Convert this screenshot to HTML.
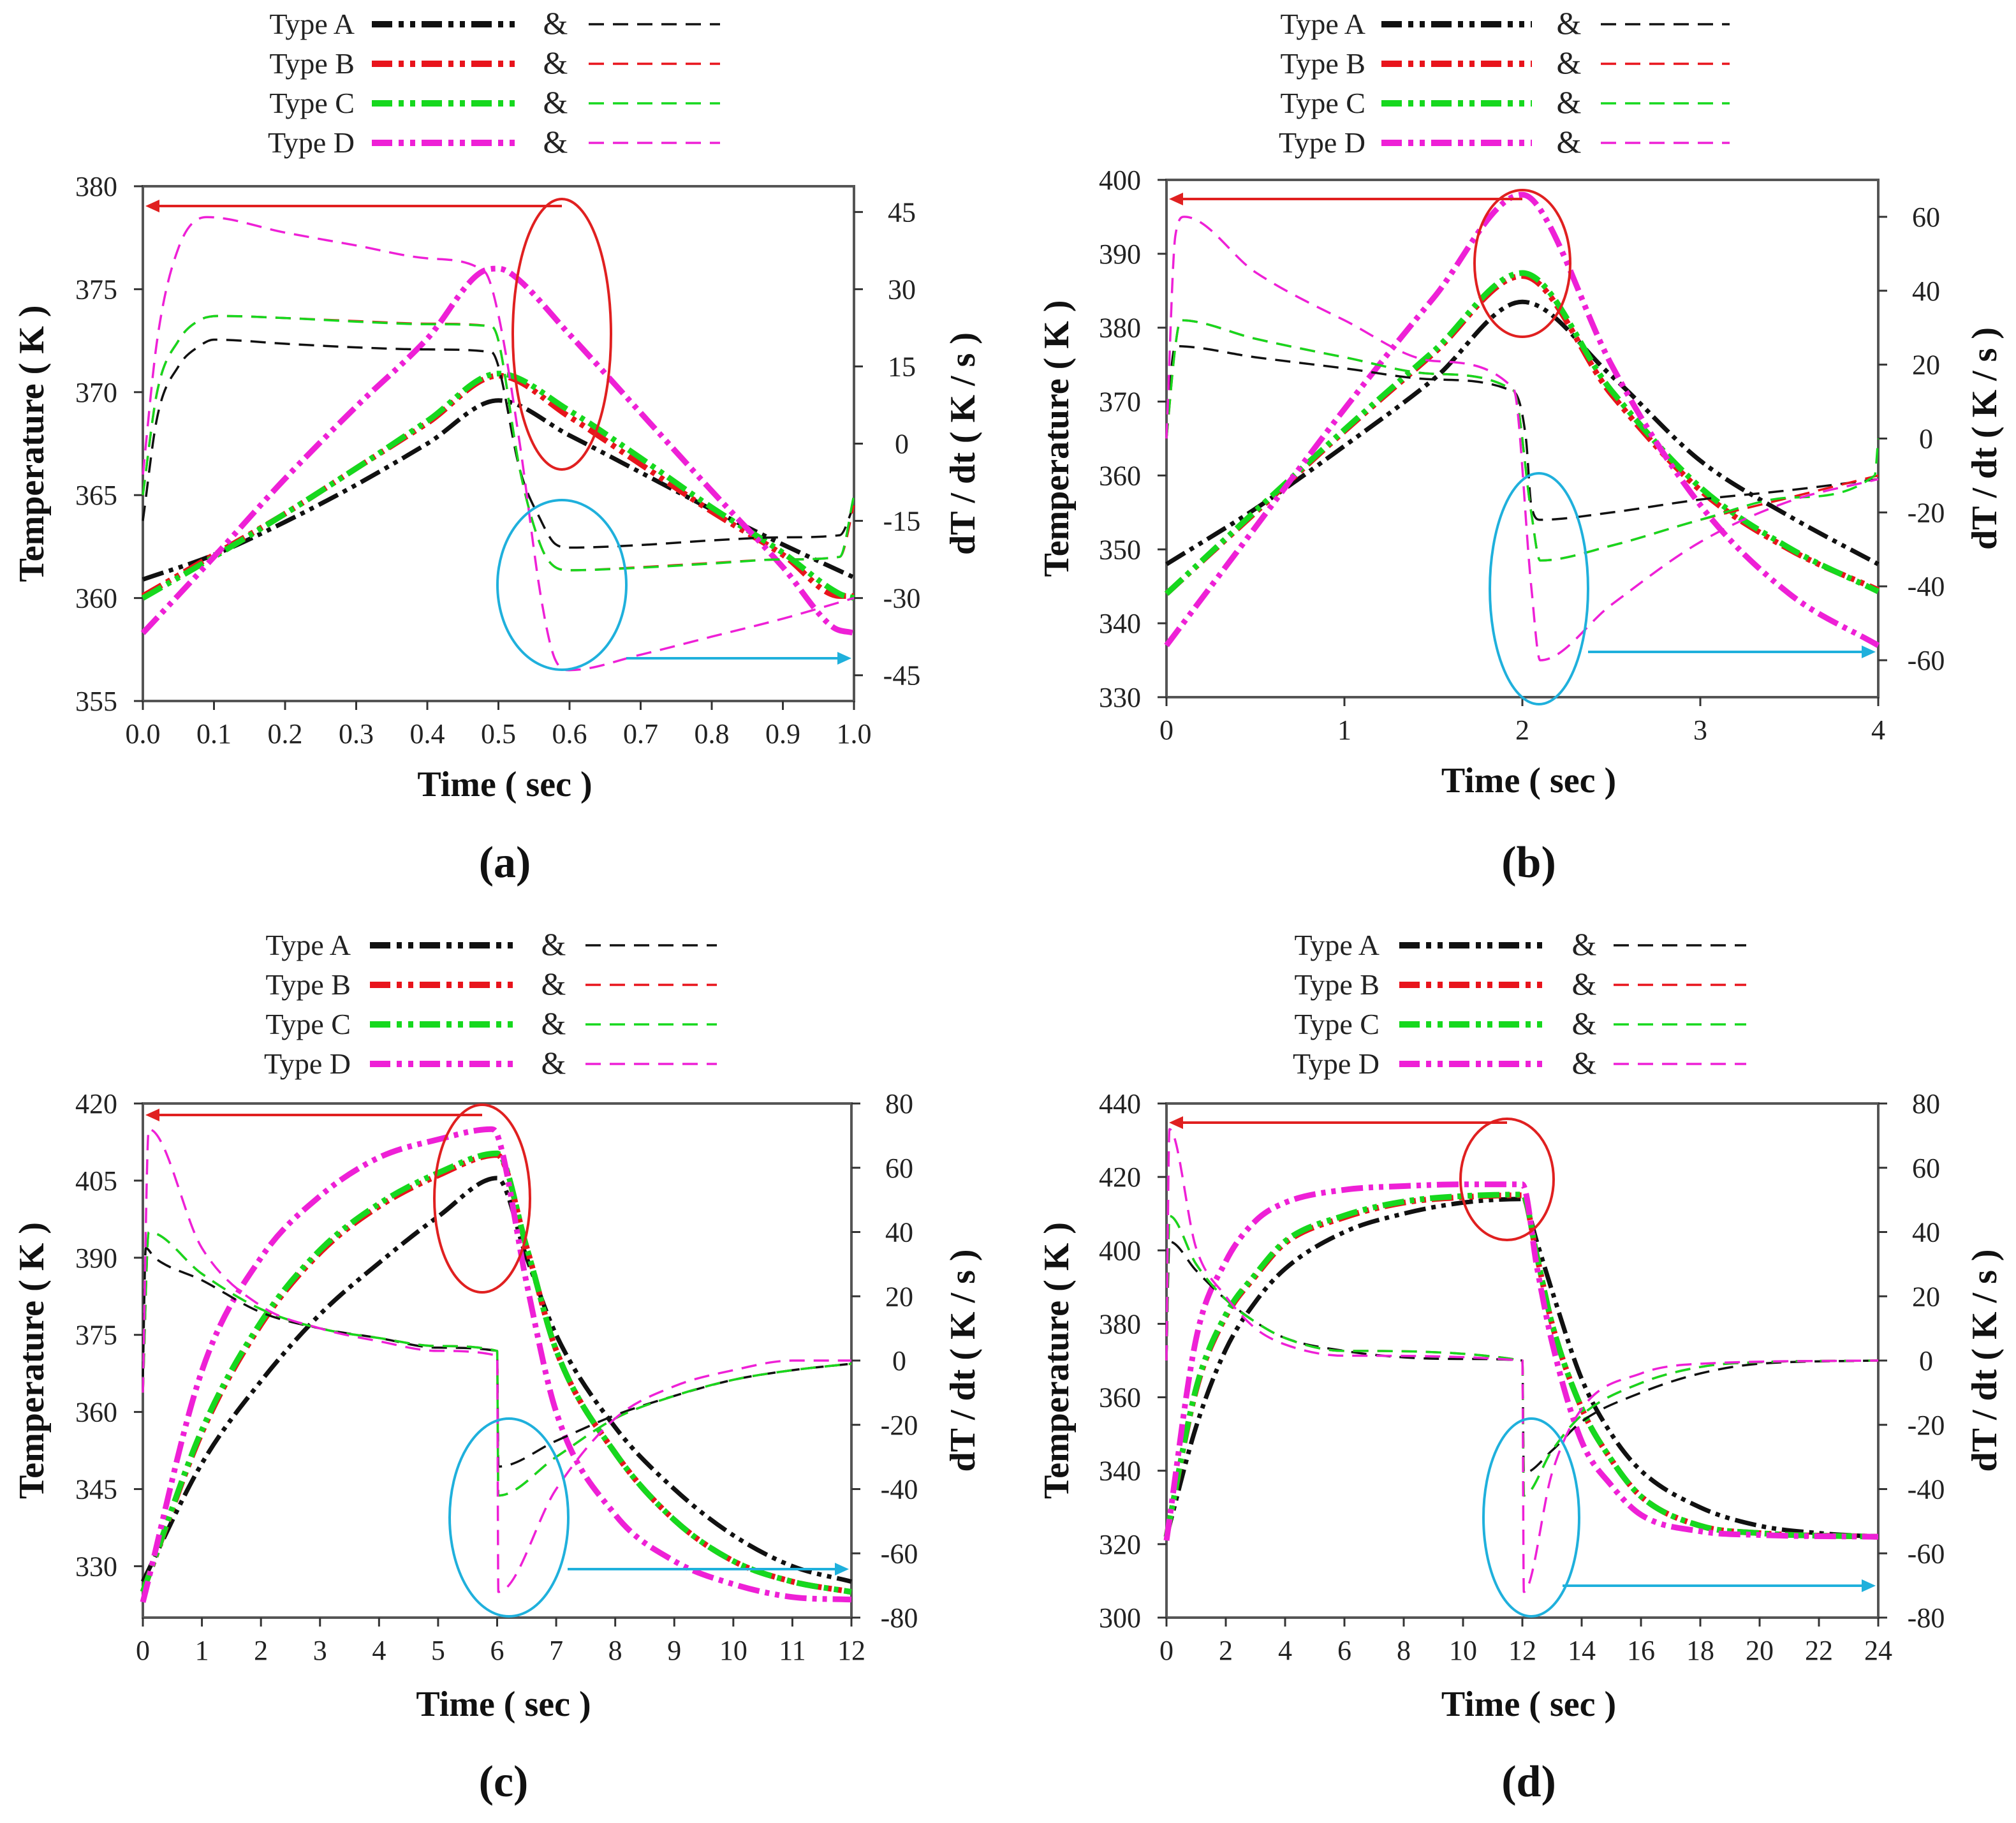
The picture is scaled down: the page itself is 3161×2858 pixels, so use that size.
<!DOCTYPE html>
<html><head><meta charset="utf-8">
<style>
html,body{margin:0;padding:0;background:#fff;}
svg{display:block;}
text{font-family:"Liberation Serif",serif;}
</style></head>
<body>
<svg id="fig" width="3161" height="2858" viewBox="0 0 3161 2858" xmlns="http://www.w3.org/2000/svg"></svg>
<script>
// ---------- DATA ----------
// Panel (a)
const aTimeTicks = [0,0.1,0.2,0.3,0.4,0.5,0.6,0.7,0.8,0.9,1.0];
const aLeftTicks = [355,360,365,370,375,380];
const aRightTicks = [-45,-30,-15,0,15,30,45];
const aTempA = [[0,360.9],[0.1,362.1],[0.2,363.7],[0.3,365.5],[0.4,367.5],[0.5,369.6],[0.6,367.9],[0.7,366.1],[0.8,364.3],[0.9,362.6],[1.0,361]];
const aTempB = [[0,360.1],[0.1,362.1],[0.2,364.1],[0.3,366.3],[0.4,368.5],[0.5,370.8],[0.6,368.8],[0.7,366.5],[0.8,364.2],[0.9,362.1],[0.98,360.1],[1,360.1]];
const aTempC = [[0,360],[0.1,362],[0.2,364.1],[0.3,366.3],[0.4,368.6],[0.5,370.9],[0.6,369.1],[0.7,366.8],[0.8,364.4],[0.9,362.2],[0.98,360.2],[1,360]];
const aTempD = [[0,358.3],[0.1,362],[0.2,365.8],[0.3,369.3],[0.4,372.6],[0.48,375.9],[0.5,376],[0.52,375.7],[0.6,372.8],[0.7,369],[0.8,365.2],[0.9,361.5],[0.97,358.6],[1.0,358.3]];
const aRateA = [[0,-15],[0.02,5],[0.05,15],[0.08,19],[0.1,20.2],[0.2,19.4],[0.3,18.7],[0.4,18.3],[0.49,17.8],[0.5,15],[0.53,-5],[0.56,-15],[0.58,-19.5],[0.6,-20.2],[0.7,-19.7],[0.8,-18.8],[0.9,-18.2],[0.98,-17.8],[1,-12]];
const aRateB = [[0,-10],[0.02,10],[0.05,20],[0.08,24],[0.11,24.8],[0.2,24.4],[0.3,23.8],[0.4,23.3],[0.49,22.8],[0.5,20],[0.53,-5],[0.56,-20],[0.58,-24],[0.6,-24.6],[0.7,-24],[0.8,-23.2],[0.9,-22.5],[0.98,-22],[1,-12]];
const aRateC = [[0,-10],[0.02,10],[0.05,20],[0.08,24],[0.11,24.8],[0.2,24.4],[0.3,23.7],[0.4,23.2],[0.49,22.8],[0.5,20],[0.53,-5],[0.56,-20],[0.58,-24],[0.6,-24.6],[0.7,-24.1],[0.8,-23.3],[0.9,-22.5],[0.98,-22],[1,-10]];
const aRateD = [[0,-6],[0.02,20],[0.05,38],[0.09,44],[0.2,41],[0.3,38.5],[0.4,36],[0.48,33.5],[0.5,25],[0.53,0],[0.56,-30],[0.58,-42],[0.6,-44],[0.7,-41],[0.8,-37.5],[0.9,-34],[1.0,-30]];
// Panel (b)
const bTimeTicks = [0,1,2,3,4];
const bLeftTicks = [330,340,350,360,370,380,390,400];
const bRightTicks = [-60,-40,-20,0,20,40,60];
const bTempA = [[0,348],[0.5,355.5],[1,364],[1.5,373],[2,383.5],[2.5,373.5],[3,362],[3.5,354.5],[4,348]];
const bTempB = [[0,344],[0.5,355],[1,366],[1.5,376.5],[2,387],[2.5,371],[3,358],[3.5,350],[4,344.5]];
const bTempC = [[0,344],[0.5,355.2],[1,366.2],[1.5,376.8],[2,387.4],[2.5,371.5],[3,358.4],[3.5,350.2],[4,344.3]];
const bTempD = [[0,337],[0.5,353],[1,369],[1.5,384],[2,398],[2.1,396],[2.5,375],[3,356],[3.5,344],[4,337]];
const bRateA = [[0,0],[0.03,20],[0.05,25],[0.5,22],[1,19],[1.5,16],[1.95,12.7],[2.02,0],[2.05,-18],[2.1,-22],[2.5,-20],[3,-16.5],[3.5,-14],[4,-11]];
const bRateB = [[0,0],[0.05,25],[0.08,32],[0.5,27],[1,22],[1.5,17.5],[1.95,13],[2.05,-20],[2.1,-33],[2.5,-29],[3,-22],[3.5,-16],[4,-10]];
const bRateC = [[0,0],[0.05,25],[0.08,32],[0.5,27],[1,22],[1.5,17.5],[1.95,13],[2.05,-20],[2.1,-33],[2.5,-29],[3,-22],[3.5,-16],[3.98,-10],[4,0]];
const bRateD = [[0,0],[0.05,55],[0.1,60],[0.5,45],[1,32],[1.5,21],[1.95,13.5],[2.05,-40],[2.1,-60],[2.5,-45],[3,-28],[3.5,-17],[4,-11]];
// Panel (c)
const cTimeTicks = [0,1,2,3,4,5,6,7,8,9,10,11,12];
const cLeftTicks = [330,345,360,375,390,405,420];
const cRightTicks = [-80,-60,-40,-20,0,20,40,60,80];
const cTempA = [[0,327],[1,350],[2,366],[3,379],[4,389],[5,398],[6,405.5],[6.5,390],[7,375],[8,357],[9,345],[10,336],[11,330],[12,327]];
const cTempB = [[0,325],[1,356],[2,377],[3,391],[4,400],[5,406],[6,410],[6.5,392],[7,372],[8,352],[9,339],[10,331],[11,327],[12,325]];
const cTempC = [[0,325],[1,356.5],[2,377.5],[3,391.5],[4,400.5],[5,406.5],[6,410.3],[6.5,392],[7,372],[8,352],[9,339],[10,331],[11,327],[12,325]];
const cTempD = [[0,323],[1,368],[2,390],[3,402],[4,409.5],[5,413],[5.9,415],[6,414],[6.5,385],[7,360],[8,340],[9,331],[10,326.5],[11,324],[12,323.5]];
const cRateA = [[0,-5],[0.05,35],[0.2,32],[1,25],[2,15],[3,10],[4,7],[5,4],[6,3],[6.02,-33],[7,-25],[8,-17],[9,-11],[10,-6],[11,-3],[12,-1]];
const cRateB = [[0,-10],[0.1,40],[1,27],[2,16],[3,10],[4,7],[5,4.5],[6,3],[6.02,-42],[7,-30],[8,-18],[9,-11],[10,-6],[11,-3],[12,-1]];
const cRateC = [[0,-10],[0.1,40],[1,27],[2,16],[3,10],[4,7],[5,4.5],[6,3],[6.02,-42],[7,-30],[8,-18],[9,-11],[10,-6],[11,-3],[12,-1]];
const cRateD = [[0,-10],[0.1,72],[1,35],[2,17],[3,10],[4,6],[5,3],[6,1.5],[6.02,-72],[7,-40],[8,-18],[9,-8],[10,-3],[11,0],[12,0]];
// Panel (d)
const dTimeTicks = [0,2,4,6,8,10,12,14,16,18,20,22,24];
const dLeftTicks = [300,320,340,360,380,400,420,440];
const dRightTicks = [-80,-60,-40,-20,0,20,40,60,80];
const dTempA = [[0,322],[1,352],[2,373],[3,386],[4,395],[6,405],[8,410],[10,413],[12,414],[12.5,402],[13,389],[14,365],[15,350],[16,340],[18,330],[20,325],[22,323],[24,322]];
const dTempB = [[0,322],[1,362],[2,382],[3,393],[4,402],[6,409],[8,413],[10,414.5],[12,415],[12.5,398],[13,380],[14,357],[15,343],[16,333],[18,325],[20,323],[24,322]];
const dTempC = [[0,322],[1,362.5],[2,382.5],[3,393.5],[4,402.5],[6,409.5],[8,413.3],[10,414.8],[12,415.2],[12.5,398],[13,380],[14,357],[15,343],[16,333],[18,325],[20,323],[24,322]];
const dTempD = [[0,321],[1,376],[2,397],[3,408],[4,413],[6,416.5],[8,417.5],[10,418],[12,418],[12.5,395],[13,375],[14,348],[15,336],[16,328],[18,323.5],[20,322.5],[24,322]];
const dRateA = [[0,0],[0.1,37],[1,28],[2,19],[3,12],[4,7],[6,3],[8,1],[10,0.5],[12,0],[12.05,-35],[13,-28],[14,-19],[16,-10],[18,-4],[20,-1],[24,0]];
const dRateB = [[0,0],[0.1,45],[1,30],[2,19],[3,12],[4,7],[6,3],[12,0],[12.05,-42],[13,-28],[14,-17],[16,-7],[18,-2],[20,-0.5],[24,0]];
const dRateC = [[0,0],[0.1,45],[1,30],[2,19],[3,12],[4,7],[6,3],[12,0],[12.05,-42],[13,-28],[14,-17],[16,-7],[18,-2],[20,-0.5],[24,0]];
const dRateD = [[0,0],[0.1,72],[1,35],[2,20],[3,10],[4,5],[6,1.5],[12,0],[12.05,-72],[13,-35],[14,-15],[16,-4],[18,-1],[24,0]];

const typeNames = ["Type A","Type B","Type C","Type D"];
const typeColors = ["#111111","#e8141c","#16d81e","#ee20d6"];

// ---------- RENDER ----------
const NS = "http://www.w3.org/2000/svg";
const svg = document.getElementById("fig");
function el(tag, attrs, parent, txt){
  const e = document.createElementNS(NS, tag);
  for (const k in attrs) e.setAttribute(k, attrs[k]);
  if (txt !== undefined) e.textContent = txt;
  (parent || svg).appendChild(e);
  return e;
}
const DDOT = "34 9 7 9 7 9";
const DASH = "24 14";

// monotone cubic (Fritsch-Carlson) path through screen points
function monoPath(P){
  const n = P.length;
  if (n < 3) return "M" + P.map(p => p[0].toFixed(1) + "," + p[1].toFixed(1)).join(" L");
  const dx = [], s = [];
  for (let i = 0; i < n - 1; i++){ dx[i] = P[i+1][0] - P[i][0]; s[i] = (P[i+1][1] - P[i][1]) / (dx[i] || 1e-6); }
  const m = [s[0]];
  for (let i = 1; i < n - 1; i++) m[i] = (s[i-1] * s[i] <= 0) ? 0 : (s[i-1] + s[i]) / 2;
  m[n-1] = s[n-2];
  for (let i = 0; i < n - 1; i++){
    if (s[i] === 0){ m[i] = 0; m[i+1] = 0; continue; }
    const a = m[i] / s[i], b = m[i+1] / s[i], h = a * a + b * b;
    if (h > 9){ const t = 3 / Math.sqrt(h); m[i] = t * a * s[i]; m[i+1] = t * b * s[i]; }
  }
  let d = "M" + P[0][0].toFixed(1) + "," + P[0][1].toFixed(1);
  for (let i = 0; i < n - 1; i++){
    const h = dx[i] / 3;
    d += " C" + (P[i][0] + h).toFixed(1) + "," + (P[i][1] + m[i] * h).toFixed(1) + " " +
         (P[i+1][0] - h).toFixed(1) + "," + (P[i+1][1] - m[i+1] * h).toFixed(1) + " " +
         P[i+1][0].toFixed(1) + "," + P[i+1][1].toFixed(1);
  }
  return d;
}

function panel(cfg){
  const g = el("g", {});
  
  
  const L = cfg.box[0], R = cfg.box[1], T = cfg.box[2], B = cfg.box[3];
  const xs = t => L + (t - cfg.xr[0]) / (cfg.xr[1] - cfg.xr[0]) * (R - L);
  const yl = v => B - (v - cfg.yl[0]) / (cfg.yl[1] - cfg.yl[0]) * (B - T);
  const yr = v => B - (v - cfg.yr[0]) / (cfg.yr[1] - cfg.yr[0]) * (B - T);

  // legend
  const lg = el("g", {}, g);
  
  
  for (let i = 0; i < 4; i++){
    const y = cfg.leg.y0 + i * cfg.leg.dy;
    const e = el("g", {}, lg);
    
    
    el("text", {x: cfg.leg.tx, y: y + 15, "font-size": 46, "text-anchor": "end", fill: "#222"}, e, typeNames[i]);
    el("line", {x1: cfg.leg.s1, x2: cfg.leg.s2, y1: y, y2: y, stroke: typeColors[i], "stroke-width": 10, "stroke-dasharray": "32 10 8 10 8 10"}, e);
    el("text", {x: cfg.leg.amp, y: y + 15, "font-size": 50, "text-anchor": "middle", fill: "#222"}, e, "&");
    el("line", {x1: cfg.leg.d1, x2: cfg.leg.d2, y1: y, y2: y, stroke: typeColors[i], "stroke-width": 3.5, "stroke-dasharray": DASH}, e);
  }

  // axes box
  const ax = el("rect", {x: L, y: T, width: R - L, height: B - T, fill: "none", stroke: "#555", "stroke-width": 4}, g);
  
  

  cfg.xt.forEach(t => {
    const x = xs(t);
    el("line", {x1: x, x2: x, y1: B, y2: B + 14, stroke: "#333", "stroke-width": 3}, g);
    const tl = el("text", {x: x, y: B + 66, "font-size": 44, "text-anchor": "middle", fill: "#222"}, g, cfg.xfmt(t));
    
    
  });
  cfg.ylt.forEach(v => {
    const y = yl(v);
    el("line", {x1: L - 14, x2: L, y1: y, y2: y, stroke: "#333", "stroke-width": 3}, g);
    const tl = el("text", {x: L - 40, y: y + 15, "font-size": 44, "text-anchor": "end", fill: "#222"}, g, String(v));
    
    
  });
  cfg.yrt.forEach(v => {
    const y = yr(v);
    el("line", {x1: R, x2: R + 14, y1: y, y2: y, stroke: "#333", "stroke-width": 3}, g);
    const tl = el("text", {x: R + 75, y: y + 15, "font-size": 44, "text-anchor": "middle", fill: "#222"}, g, String(v));
    
    
  });

  const xt = el("text", {x: (L + R) / 2 + 10, y: cfg.xtitleY, "font-size": 56, "font-weight": "bold", "text-anchor": "middle", fill: "#111"}, g, "Time ( sec )");
  
  
  const cy = (T + B) / 2;
  const ytl = el("text", {x: 0, y: 0, "font-size": 56, "font-weight": "bold", "text-anchor": "middle", fill: "#111", transform: `translate(${cfg.ylabX},${cy}) rotate(-90)`}, g, "Temperature ( K )");
  
  
  const ytr = el("text", {x: 0, y: 0, "font-size": 56, "font-weight": "bold", "text-anchor": "middle", fill: "#111", transform: `translate(${cfg.yrabX},${cy}) rotate(-90)`}, g, "dT / dt ( K / s )");
  
  
  const pl = el("text", {x: (L + R) / 2 + 10, y: cfg.labY, "font-size": 70, "font-weight": "bold", "text-anchor": "middle", fill: "#111"}, g, "(" + cfg.id + ")");
  
  

  const pts = (arr, ys) => arr.map(p => [xs(p[0]), ys(p[1])]);
  for (let i = 0; i < 4; i++){
    const ln = el("path", {d: monoPath(pts(cfg.temps[i], yl)), fill: "none", stroke: typeColors[i], "stroke-width": i === 0 ? 7 : 9, "stroke-dasharray": DDOT, "stroke-linejoin": "round"}, g);
    
    
  }
  for (let i = 0; i < 4; i++){
    const ln = el("path", {d: monoPath(pts(cfg.rates[i], yr)), fill: "none", stroke: typeColors[i], "stroke-width": 3.5, "stroke-dasharray": DASH, "stroke-linejoin": "round"}, g);
    
    
  }

  const a = cfg.ann;
  const re = el("ellipse", {cx: a.r[0], cy: a.r[1], rx: a.r[2], ry: a.r[3], fill: "none", stroke: "#e02020", "stroke-width": 4}, g);
  
  
  const ra = el("line", {x1: a.ra[0], x2: L + 22, y1: a.ra[1], y2: a.ra[1], stroke: "#e02020", "stroke-width": 4}, g);
  
  
  el("polygon", {points: `${L + 4},${a.ra[1]} ${L + 26},${a.ra[1] - 10} ${L + 26},${a.ra[1] + 10}`, fill: "#e02020"}, g);
  const be = el("ellipse", {cx: a.b[0], cy: a.b[1], rx: a.b[2], ry: a.b[3], fill: "none", stroke: "#1fb0dc", "stroke-width": 4}, g);
  
  
  const ba = el("line", {x1: a.ba[0], x2: R - 22, y1: a.ba[1], y2: a.ba[1], stroke: "#1fb0dc", "stroke-width": 4}, g);
  
  
  el("polygon", {points: `${R - 4},${a.ba[1]} ${R - 26},${a.ba[1] - 10} ${R - 26},${a.ba[1] + 10}`, fill: "#1fb0dc"}, g);
}

const legTop = {y0: 38, dy: 62};
const legBot = {y0: 1482, dy: 62};
panel({id: "a", box: [224, 1339, 292, 1099], xr: [0, 1], yl: [355, 380], yr: [-50, 50],
  xt: aTimeTicks, ylt: aLeftTicks, yrt: aRightTicks, xfmt: t => t.toFixed(1),
  temps: [aTempA, aTempB, aTempC, aTempD], rates: [aRateA, aRateB, aRateC, aRateD],
  leg: Object.assign({tx: 556, s1: 583, s2: 812, amp: 871, d1: 923, d2: 1129}, legTop),
  xtitleY: 1248, labY: 1375, ylabX: 68, yrabX: 1528,
  ann: {r: [881, 524, 77, 212], ra: [881, 323], b: [881, 917, 101, 133], ba: [982, 1032]}});
panel({id: "b", box: [1829, 2945, 282, 1093], xr: [0, 4], yl: [330, 400], yr: [-70, 70],
  xt: bTimeTicks, ylt: bLeftTicks, yrt: bRightTicks, xfmt: t => String(t),
  temps: [bTempA, bTempB, bTempC, bTempD], rates: [bRateA, bRateB, bRateC, bRateD],
  leg: Object.assign({tx: 2141, s1: 2166, s2: 2402, amp: 2460, d1: 2510, d2: 2712}, legTop),
  xtitleY: 1242, labY: 1375, ylabX: 1675, yrabX: 3130,
  ann: {r: [2387, 413, 75, 115], ra: [2387, 312], b: [2413, 923, 77, 181], ba: [2490, 1022]}});
panel({id: "c", box: [224, 1335, 1730, 2536], xr: [0, 12], yl: [320, 420], yr: [-80, 80],
  xt: cTimeTicks, ylt: cLeftTicks, yrt: cRightTicks, xfmt: t => String(t),
  temps: [cTempA, cTempB, cTempC, cTempD], rates: [cRateA, cRateB, cRateC, cRateD],
  leg: Object.assign({tx: 550, s1: 580, s2: 812, amp: 868, d1: 918, d2: 1124}, legBot),
  xtitleY: 2690, labY: 2816, ylabX: 68, yrabX: 1528,
  ann: {r: [756, 1879, 75, 147], ra: [756, 1748], b: [798, 2379, 93, 155], ba: [890, 2460]}});
panel({id: "d", box: [1829, 2945, 1730, 2536], xr: [0, 24], yl: [300, 440], yr: [-80, 80],
  xt: dTimeTicks, ylt: dLeftTicks, yrt: dRightTicks, xfmt: t => String(t),
  temps: [dTempA, dTempB, dTempC, dTempD], rates: [dRateA, dRateB, dRateC, dRateD],
  leg: Object.assign({tx: 2163, s1: 2194, s2: 2426, amp: 2484, d1: 2530, d2: 2738}, legBot),
  xtitleY: 2690, labY: 2816, ylabX: 1675, yrabX: 3130,
  ann: {r: [2363, 1849, 73, 95], ra: [2363, 1760], b: [2401, 2379, 75, 155], ba: [2450, 2486]}});
</script>
</body></html>
